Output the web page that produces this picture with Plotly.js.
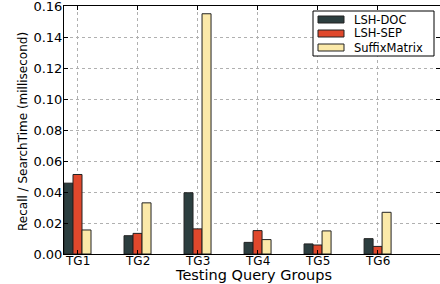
<!DOCTYPE html>
<html>
<head>
<meta charset="utf-8">
<script src="https://cdn.plot.ly/plotly-3.0.1.min.js"></script>
<style>
  html, body { margin: 0; padding: 0; background: #fff; }
  #chart { width: 440px; height: 284px; }
</style>
</head>
<body>
<div id="chart"></div>
<script>
const categories = ["TG1", "TG2", "TG3", "TG4", "TG5", "TG6"];
const seriesNames = ["LSH-DOC", "LSH-SEP", "SuffixMatrix"];
const lshDoc = [0.0457, 0.0118, 0.0395, 0.0075, 0.0065, 0.0099];
const lshSep = [0.0513, 0.0133, 0.0162, 0.0151, 0.0058, 0.0049];
const suffixMatrix = [0.0155, 0.0330, 0.1550, 0.0093, 0.0149, 0.0269];
const yTicks = [0, 0.02, 0.04, 0.06, 0.08, 0.10, 0.12, 0.14, 0.16];
const yTickText = ["0.00", "0.02", "0.04", "0.06", "0.08", "0.10", "0.12", "0.14", "0.16"];

const colors = ["#2c3e3f", "#e0482c", "#fbe9a9"];
const FONT = "DejaVu Sans, sans-serif";
const xIdx = categories.map((_, i) => i);

const W = 440, H = 284;
const M = { l: 64, r: 0, t: 6, b: 30 };
const plotW = W - M.l - M.r, plotH = H - M.t - M.b;
const px2x = px => (px - M.l) / plotW;
const py2y = py => (H - M.b - py) / plotH;

const allSeries = [lshDoc, lshSep, suffixMatrix];
const traces = allSeries.map((vals, k) => ({
  type: "bar",
  name: seriesNames[k],
  x: xIdx,
  y: vals,
  showlegend: false,
  marker: { color: colors[k], line: { color: "#222222", width: 1 } }
}));

// custom legend (matplotlib-style wide swatches)
const shapes = [{
  type: "rect", xref: "paper", yref: "paper",
  x0: px2x(313), x1: px2x(434), y0: py2y(56), y1: py2y(11),
  fillcolor: "#ffffff", line: { color: "#000000", width: 1 }, layer: "above"
}];
const annotations = [];
const rowY = [19.5, 33.5, 47.5];
seriesNames.forEach((name, k) => {
  shapes.push({
    type: "rect", xref: "paper", yref: "paper",
    x0: px2x(318), x1: px2x(344), y0: py2y(rowY[k] + 3.5), y1: py2y(rowY[k] - 3.5),
    fillcolor: colors[k], line: { color: "#222222", width: 1 }, layer: "above"
  });
  annotations.push({
    xref: "paper", yref: "paper", x: px2x(353), y: py2y(rowY[k]),
    xanchor: "left", yanchor: "middle", showarrow: false, text: name, borderpad: 0,
    height: 12, valign: "middle",
    font: { family: FONT, size: 11.5, color: "#000000" }
  });
});
// x tick labels via the x scale
categories.forEach((c, i) => {
  annotations.push({
    xref: "x", yref: "paper", x: i, y: py2y(261),
    xanchor: "center", yanchor: "middle", showarrow: false, text: c, borderpad: 0,
    font: { family: FONT, size: 12, color: "#000000" }
  });
});
annotations.push({
  xref: "paper", yref: "paper", x: px2x(253.5), y: py2y(274.5),
  xanchor: "center", yanchor: "middle", showarrow: false, borderpad: 0,
  text: "Testing Query Groups", font: { family: FONT, size: 14.5, color: "#000000" }
});
annotations.push({
  xref: "paper", yref: "paper", x: px2x(22.5), y: py2y(131.5),
  xanchor: "center", yanchor: "middle", showarrow: false, textangle: -90, borderpad: 0,
  text: "Recall / SearchTime (millisecond)", font: { family: FONT, size: 12, color: "#000000" }
});

const layout = {
  width: W,
  height: H,
  margin: M,
  paper_bgcolor: "#ffffff",
  plot_bgcolor: "#ffffff",
  font: { family: FONT, size: 13, color: "#000000" },
  barmode: "group",
  bargap: 0.55,
  bargroupgap: 0,
  showlegend: false,
  shapes: shapes,
  annotations: annotations,
  xaxis: {
    range: [-0.225, 6.04],
    tickmode: "array",
    tickvals: xIdx,
    ticktext: categories,
    showticklabels: false,
    ticks: "inside",
    ticklen: 4,
    tickcolor: "#000000",
    showline: true,
    linecolor: "#000000",
    linewidth: 1,
    mirror: "ticks",
    showgrid: true,
    gridcolor: "#b0b0b0",
    griddash: "dot",
    gridwidth: 1,
    zeroline: false,
    layer: "above traces",
    automargin: false
  },
  yaxis: {
    range: [0, 0.16],
    tickmode: "array",
    tickvals: yTicks,
    ticktext: yTickText,
    ticks: "inside",
    ticklen: 4,
    tickcolor: "#000000",
    showline: true,
    linecolor: "#000000",
    linewidth: 1,
    mirror: "ticks",
    showgrid: true,
    gridcolor: "#b0b0b0",
    griddash: "dot",
    gridwidth: 1,
    zeroline: false,
    ticklabelstandoff: -2,
    ticklabeloverflow: "allow",
    tickfont: { family: FONT, size: 13 },
    automargin: false
  }
};

Plotly.newPlot("chart", traces, layout, { staticPlot: true, displayModeBar: false });
</script>
</body>
</html>
